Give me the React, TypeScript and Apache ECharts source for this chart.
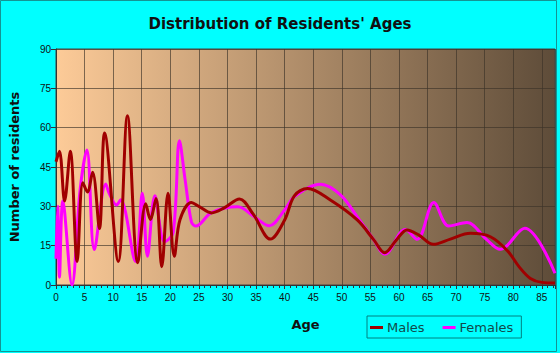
import React, { useEffect, useRef } from "react";
import * as echarts from "echarts";

const title = "Distribution of Residents' Ages";
const xName = "Age";
const yName = "Number of residents";
const seriesNames = ["Males", "Females"];

const maleAges = [0, 0.6, 1.5, 2.5, 3.7, 4.7, 5.5, 6.4, 7.6, 8.5, 10.9, 12.5, 14.3, 15.7, 16.5, 17.5, 18.5, 19.6, 20.7, 21.7, 23.7, 25, 27.2, 29.5, 32.1, 34.5, 37.5, 40, 41.7, 44, 48, 52.7, 55.6, 57.5, 59.5, 61.4, 63.5, 66, 69, 72.5, 76, 79, 81, 83, 85, 87.3];
const maleValues = [47, 51, 32, 51, 9, 39, 35.5, 43, 21.5, 58, 9, 64.5, 8.5, 31, 25, 33, 7, 35, 11, 25, 31.5, 30, 27.5, 29.5, 32.8, 27, 17.5, 24.8, 34, 36.8, 32.4, 24.8, 17.2, 12.3, 17, 21, 19, 15.5, 17.5, 19.7, 18.4, 13, 7, 2.5, 1, 0.8];

const femaleAges = [0, 0.3, 0.6, 1.2, 2.8, 4.2, 5.4, 6.7, 8.7, 9.3, 10.6, 11.3, 13.9, 15.1, 16, 17.3, 19, 20.5, 21.6, 22.6, 23.7, 24.5, 27.2, 31.8, 34.7, 37.3, 40, 41.7, 46.3, 49.8, 52.7, 55.6, 57.5, 61.1, 63.2, 66.1, 68.7, 71.9, 75.4, 77.7, 82, 87.3];
const femaleValues = [10, 30, 3, 32, 0, 36, 51.5, 13.5, 38.5, 35, 30.5, 32.5, 9, 35, 11, 34, 16.5, 20, 55, 40, 24, 22.5, 27.6, 29.8, 26, 22.6, 28.6, 33.7, 38.4, 34.3, 26, 17.2, 11.7, 21.2, 17.4, 31.5, 22.5, 23.8, 17.2, 13.6, 21.6, 4.5];

const pairs = (xs: number[], ys: number[]) => xs.map((x, i) => [x, ys[i]]);

export default function App() {
  const ref = useRef<HTMLDivElement>(null);
  useEffect(() => {
    if (!ref.current) return;
    const chart = echarts.init(ref.current, undefined, { renderer: "svg" });
    const font = "'Liberation Sans', Arial, sans-serif";
    const wide = "'DejaVu Sans', Verdana, sans-serif";
    chart.setOption({
      animation: false,
      backgroundColor: "#00FFFF",
      title: {
        text: title,
        left: "center",
        top: 11,
        textStyle: { fontFamily: wide, fontSize: 15, fontWeight: "bold", color: "#111" },
      },
      legend: {
        left: 367,
        top: 316,
        itemWidth: 13,
        itemHeight: 3,
        itemGap: 18,
        icon: "rect",
        padding: [5, 8, 4, 3],
        borderColor: "#008080",
        borderWidth: 1,
        textStyle: { fontFamily: wide, fontSize: 13, color: "#114a4a", padding: [0, 0, 0, -1] },
        data: seriesNames,
      },
      grid: {
        left: 54,
        right: 5,
        top: 49,
        bottom: 68,
        show: true,
        borderColor: "#444",
        borderWidth: 1,
        backgroundColor: new echarts.graphic.LinearGradient(0, 0, 1, 0, [
          { offset: 0, color: "#FDCB98" },
          { offset: 1, color: "#5E4C39" },
        ]),
      },
      xAxis: {
        type: "value",
        min: 0,
        max: 87.3,
        interval: 5,
        name: xName,
        nameLocation: "middle",
        nameGap: 33,
        nameTextStyle: { fontFamily: wide, fontSize: 13, fontWeight: "bold", color: "#111" },
        axisLine: { show: true, lineStyle: { color: "#333" } },
        axisTick: { show: true, length: 4, lineStyle: { color: "#333" } },
        minorTick: { show: true, splitNumber: 5, length: 3, lineStyle: { color: "#333" } },
        axisLabel: { fontFamily: font, fontSize: 10, color: "#111", margin: 7, showMaxLabel: false },
        splitLine: { show: true, lineStyle: { color: "rgba(60,50,40,0.65)", width: 1 } },
      },
      yAxis: {
        type: "value",
        min: 0,
        max: 90,
        interval: 15,
        name: yName,
        nameLocation: "middle",
        nameGap: 35,
        nameTextStyle: { fontFamily: wide, fontSize: 13, fontWeight: "bold", color: "#111" },
        axisLine: { show: true, lineStyle: { color: "#333" } },
        axisTick: { show: true, length: 5, lineStyle: { color: "#333" } },
        axisLabel: { fontFamily: font, fontSize: 10, color: "#111", margin: 5 },
        splitLine: { show: true, lineStyle: { color: "rgba(60,50,40,0.65)", width: 1 } },
      },
      series: [
        {
          name: seriesNames[0],
          type: "line",
          smooth: 0.35,
          showSymbol: false,
          symbol: "none",
          color: "#A00000",
          lineStyle: { width: 3, color: "#A00000" },
          data: pairs(maleAges, maleValues),
          z: 3,
        },
        {
          name: seriesNames[1],
          type: "line",
          smooth: 0.35,
          showSymbol: false,
          symbol: "none",
          color: "#FF00FF",
          lineStyle: { width: 3, color: "#FF00FF" },
          data: pairs(femaleAges, femaleValues),
          z: 2,
        },
      ],
      graphic: [
        {
          type: "rect",
          shape: { x: 0.5, y: 0.5, width: 556, height: 351 },
          style: { fill: "none", stroke: "#149494", lineWidth: 1 },
          silent: true,
        },
      ],
    });
    return () => chart.dispose();
  }, []);
  return <div ref={ref} style={{ position: "fixed", left: 0, top: 0, width: 560, height: 353 }} />;
}
